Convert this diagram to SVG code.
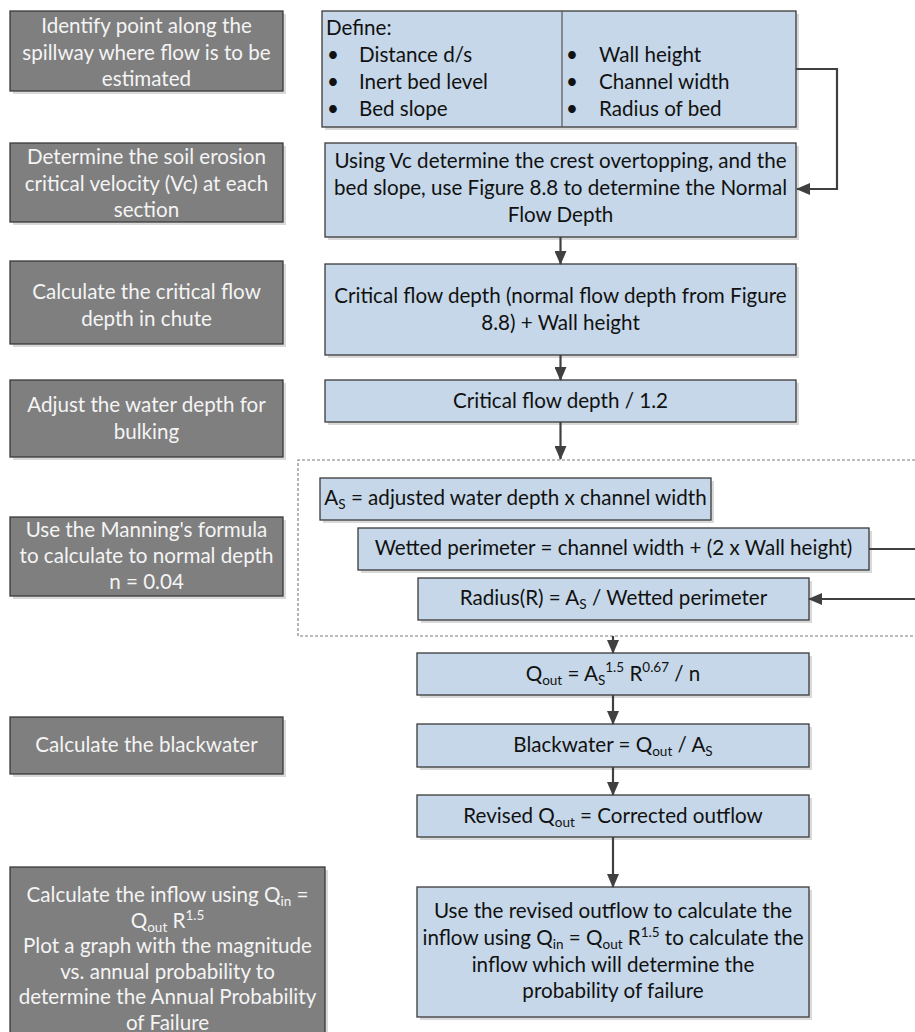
<svg xmlns="http://www.w3.org/2000/svg" width="915" height="1032" viewBox="0 0 915 1032">
  <defs>
    <style>
      text { font-family: Lato, "Liberation Sans", sans-serif; font-size: 20.6px; }
      .sh { fill: #d9d9d9; }
      .g { fill: #7f7f7f; stroke: #3a3a3a; stroke-width: 1.3; }
      .b { fill: #c5d7e8; stroke: #3a3a3a; stroke-width: 1.3; }
      .tw { fill: #f4f4f4; text-anchor: middle; }
      .tb { fill: #111111; text-anchor: middle; }
      .tl { fill: #111111; }
      .sub { font-size: 13.5px; }
      .sup { font-size: 13.5px; }
      .conn { fill: none; stroke: #404040; stroke-width: 2.2; }
      .dash { fill: none; stroke: #7a7a7a; stroke-width: 1.1; stroke-dasharray: 3 2; }
    </style>
    <marker id="arrow" markerUnits="userSpaceOnUse" markerWidth="14" markerHeight="12" refX="13" refY="6" orient="auto">
      <path d="M0,0 L14,6 L0,12 z" fill="#404040"/>
    </marker>
  </defs>

  <!-- grouping frame around the Manning steps -->
  <path class="dash" d="M920,460 H298 V636 H920"/>

  <!-- left column: step descriptions -->
  <g id="step-identify">
    <rect class="sh" x="13" y="14" width="273" height="80"/>
    <rect class="g" x="10" y="11" width="273" height="80"/>
    <text class="tw" x="146.5" y="33">Identify point along the</text>
    <text class="tw" x="146.5" y="59.5">spillway where flow is to be</text>
    <text class="tw" x="146.5" y="86">estimated</text>
  </g>
  <g id="step-velocity">
    <rect class="sh" x="13" y="146" width="273" height="79"/>
    <rect class="g" x="10" y="143" width="273" height="79"/>
    <text class="tw" x="146.5" y="164">Determine the soil erosion</text>
    <text class="tw" x="146.5" y="190.5">critical velocity (Vc) at each</text>
    <text class="tw" x="146.5" y="217">section</text>
  </g>
  <g id="step-critical">
    <rect class="sh" x="13" y="264" width="273" height="83"/>
    <rect class="g" x="10" y="261" width="273" height="83"/>
    <text class="tw" x="146.5" y="299">Calculate the critical flow</text>
    <text class="tw" x="146.5" y="325.5">depth in chute</text>
  </g>
  <g id="step-bulking">
    <rect class="sh" x="13" y="383" width="273" height="77"/>
    <rect class="g" x="10" y="380" width="273" height="77"/>
    <text class="tw" x="146.5" y="412">Adjust the water depth for</text>
    <text class="tw" x="146.5" y="438.5">bulking</text>
  </g>
  <g id="step-manning">
    <rect class="sh" x="13" y="520" width="273" height="79"/>
    <rect class="g" x="10" y="517" width="273" height="79"/>
    <text class="tw" x="146.5" y="537">Use the Manning's formula</text>
    <text class="tw" x="146.5" y="563">to calculate to normal depth</text>
    <text class="tw" x="146.5" y="589">n = 0.04</text>
  </g>
  <g id="step-blackwater">
    <rect class="sh" x="13" y="720" width="273" height="57"/>
    <rect class="g" x="10" y="717" width="273" height="57"/>
    <text class="tw" x="146.5" y="752">Calculate the blackwater</text>
  </g>
  <g id="step-inflow">
    <rect class="sh" x="13" y="870" width="315" height="180"/>
    <rect class="g" x="10" y="867" width="315" height="180"/>
    <text class="tw" x="167.5" y="902">Calculate the inflow using Q<tspan class="sub" dy="4">in</tspan><tspan dy="-4"> =</tspan></text>
    <text class="tw" x="167.5" y="927.5">Q<tspan class="sub" dy="4">out</tspan><tspan dy="-4"> R</tspan><tspan class="sup" dy="-8">1.5</tspan></text>
    <text class="tw" x="167.5" y="953">Plot a graph with the magnitude</text>
    <text class="tw" x="167.5" y="978.5">vs. annual probability to</text>
    <text class="tw" x="167.5" y="1004">determine the Annual Probability</text>
    <text class="tw" x="167.5" y="1029.5">of Failure</text>
  </g>

  <!-- right column: calculation chain -->
  <g id="define">
    <rect class="sh" x="325" y="14" width="474" height="116"/>
    <rect class="b" x="322" y="11" width="474" height="116"/>
    <line x1="562" y1="11" x2="562" y2="127" stroke="#555555" stroke-width="1.2"/>
    <text class="tl" x="326" y="35">Define:</text>
    <text class="tb" x="333" y="62">•</text>
    <text class="tl" x="359" y="62">Distance d/s</text>
    <text class="tb" x="333" y="89">•</text>
    <text class="tl" x="359" y="89">Inert bed level</text>
    <text class="tb" x="333" y="116">•</text>
    <text class="tl" x="359" y="116">Bed slope</text>
    <text class="tb" x="572" y="62">•</text>
    <text class="tl" x="599" y="62">Wall height</text>
    <text class="tb" x="572" y="89">•</text>
    <text class="tl" x="599" y="89">Channel width</text>
    <text class="tb" x="572" y="116">•</text>
    <text class="tl" x="599" y="116">Radius of bed</text>
  </g>
  <g id="normal-depth">
    <rect class="sh" x="328" y="146" width="471" height="94"/>
    <rect class="b" x="325" y="143" width="471" height="94"/>
    <text class="tb" x="560.5" y="168">Using Vc determine the crest overtopping, and the</text>
    <text class="tb" x="560.5" y="195">bed slope, use Figure 8.8 to determine the Normal</text>
    <text class="tb" x="560.5" y="222">Flow Depth</text>
  </g>
  <g id="critical-depth">
    <rect class="sh" x="328" y="267" width="471" height="91"/>
    <rect class="b" x="325" y="264" width="471" height="91"/>
    <text class="tb" x="560.5" y="303">Critical flow depth (normal flow depth from Figure</text>
    <text class="tb" x="560.5" y="330">8.8) + Wall height</text>
  </g>
  <g id="adjusted-depth">
    <rect class="sh" x="328" y="383" width="471" height="42"/>
    <rect class="b" x="325" y="380" width="471" height="42"/>
    <text class="tb" x="560.5" y="408">Critical flow depth / 1.2</text>
  </g>
  <g id="area">
    <rect class="sh" x="323" y="481" width="391" height="42"/>
    <rect class="b" x="320" y="478" width="391" height="42"/>
    <text class="tb" x="515.5" y="505">A<tspan class="sub" dy="4">S</tspan><tspan dy="-4"> = adjusted water depth x channel width</tspan></text>
  </g>
  <g id="wetted-perimeter">
    <rect class="sh" x="361" y="531" width="511" height="42"/>
    <rect class="b" x="358" y="528" width="511" height="42"/>
    <text class="tb" x="613.5" y="555">Wetted perimeter = channel width + (2 x Wall height)</text>
  </g>
  <g id="radius">
    <rect class="sh" x="421" y="581" width="391" height="42"/>
    <rect class="b" x="418" y="578" width="391" height="42"/>
    <text class="tb" x="613.5" y="605">Radius(R) = A<tspan class="sub" dy="4">S</tspan><tspan dy="-4"> / Wetted perimeter</tspan></text>
  </g>
  <g id="outflow">
    <rect class="sh" x="420" y="656" width="392" height="42"/>
    <rect class="b" x="417" y="653" width="392" height="42"/>
    <text class="tb" x="613" y="681">Q<tspan class="sub" dy="4">out</tspan><tspan dy="-4"> = A</tspan><tspan class="sub" dy="4">S</tspan><tspan class="sup" dy="-13">1.5</tspan><tspan dy="9"> R</tspan><tspan class="sup" dy="-9">0.67</tspan><tspan dy="9"> / n</tspan></text>
  </g>
  <g id="blackwater">
    <rect class="sh" x="420" y="727" width="392" height="43"/>
    <rect class="b" x="417" y="724" width="392" height="43"/>
    <text class="tb" x="613" y="752">Blackwater = Q<tspan class="sub" dy="4">out</tspan><tspan dy="-4"> / A</tspan><tspan class="sub" dy="4">S</tspan></text>
  </g>
  <g id="revised-outflow">
    <rect class="sh" x="420" y="798" width="392" height="42"/>
    <rect class="b" x="417" y="795" width="392" height="42"/>
    <text class="tb" x="613" y="823">Revised Q<tspan class="sub" dy="4">out</tspan><tspan dy="-4"> = Corrected outflow</tspan></text>
  </g>
  <g id="inflow">
    <rect class="sh" x="420" y="890" width="392" height="130"/>
    <rect class="b" x="417" y="887" width="392" height="130"/>
    <text class="tb" x="613" y="918">Use the revised outflow to calculate the</text>
    <text class="tb" x="613" y="945">inflow using Q<tspan class="sub" dy="4">in</tspan><tspan dy="-4"> = Q</tspan><tspan class="sub" dy="4">out</tspan><tspan dy="-4"> R</tspan><tspan class="sup" dy="-8">1.5</tspan><tspan dy="8"> to calculate the</tspan></text>
    <text class="tb" x="613" y="971.5">inflow which will determine the</text>
    <text class="tb" x="613" y="998">probability of failure</text>
  </g>

  <!-- connectors -->
  <g id="connectors">
    <path class="conn" d="M796,69 H837 V189 H797" marker-end="url(#arrow)"/>
    <path class="conn" d="M560.5,237 V264" marker-end="url(#arrow)"/>
    <path class="conn" d="M560.5,355 V380" marker-end="url(#arrow)"/>
    <path class="conn" d="M560.5,422 V459" marker-end="url(#arrow)"/>
    <path class="conn" d="M613,636 V653" marker-end="url(#arrow)"/>
    <path class="conn" d="M613,695 V724" marker-end="url(#arrow)"/>
    <path class="conn" d="M613,767 V795" marker-end="url(#arrow)"/>
    <path class="conn" d="M613,837 V887" marker-end="url(#arrow)"/>
    <path class="conn" d="M869,549 H920"/>
    <path class="conn" d="M920,599 H809" marker-end="url(#arrow)"/>
  </g>
</svg>
